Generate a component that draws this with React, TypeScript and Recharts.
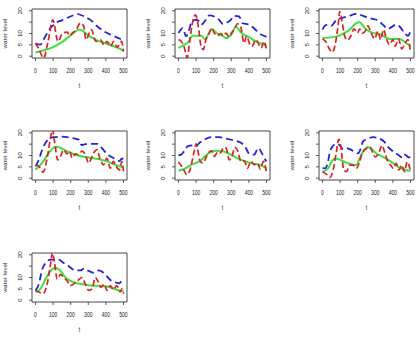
import React from 'react';
import { LineChart, Line, XAxis, YAxis, ReferenceArea, Label } from 'recharts';

type P = [number, number][];

const tTicks = [0, 100, 200, 300, 400, 500];
const levelTicks = [0, 5, 10, 15, 20];
const levelLabels: Record<number, string> = { 0: '0', 5: '5', 10: '10', 15: '', 20: '20' };
const xTitle = 't';
const yTitle = 'water level';

const p1Blue: P = [[0,5.5],[27,5.1],[56,8.8],[84,12.3],[112,14.5],[150,15.8],[198,17.5],[238,18.5],[274,17.6],[312,16],[349,13.3],[387,11],[444,8.9],[491,7.3],[500,7]];
const p1Red: P = [[0,5.8],[20,3],[46,-0.8],[70,6],[98,16],[128,6.5],[155,10.2],[180,10.6],[195,9],[206,10],[230,11.5],[255,14.6],[274,13.2],[287,7.3],[317,11.7],[344,6.5],[370,7.2],[388,5],[407,6.5],[426,4.3],[445,6.5],[464,4],[489,6.5],[500,2]];
const p1Green: P = [[0,1.6],[50,2.6],[100,4],[150,6.2],[200,9.2],[250,11.8],[300,9.2],[350,7],[400,5.6],[450,4.2],[500,2.5]];

const p2Blue: P = [[0,10.2],[24,12.4],[43,8.8],[62,12],[75,15.5],[100,16],[115,15.5],[130,13.9],[150,15.5],[175,18],[203,17.5],[231,16],[250,14.3],[269,14.6],[297,16],[316,17.8],[344,17.5],[363,14.6],[400,13.9],[428,12.4],[457,10.2],[485,9],[500,8.5]];
const p2Red: P = [[0,7.3],[15,6.6],[30,4.5],[50,-0.7],[62,5.8],[81,15.3],[96,18.2],[113,13],[128,4.4],[141,2.9],[156,7.3],[175,10.2],[188,12.4],[203,10.2],[222,9],[240,10],[256,9],[269,10.2],[288,8.5],[301,10.2],[316,11.7],[335,14.3],[353,13.1],[372,5.8],[387,8.8],[406,5.1],[419,4.4],[438,7.3],[457,5.1],[470,3.6],[485,6.6],[500,2.9]];
const p2Green: P = [[0,3.6],[34,5.1],[53,6],[80,9],[130,9],[150,7.5],[190,12],[220,10],[250,9],[270,8],[300,9.5],[325,13],[360,10],[400,8.5],[430,7],[470,5.5],[500,4.5]];

const p3Blue: P = [[0,11.7],[13,13.4],[32,13.9],[51,13.5],[79,16],[108,16.8],[145,17.5],[192,18.7],[230,17.8],[268,16.8],[315,15.8],[343,13.9],[372,12],[391,12.8],[419,13.9],[438,13.1],[466,10.2],[485,9],[500,11]];
const p3Red: P = [[0,7.6],[17,6.6],[41,2.9],[55,1.75],[70,4.4],[89,13.9],[98,19.7],[108,16.8],[126,8.8],[142,7],[160,8.8],[179,12],[198,10.2],[211,12],[225,10.2],[240,10.7],[258,13.4],[277,10.2],[296,7.6],[315,11],[330,7.3],[347,11.7],[362,8],[381,5.1],[400,7.3],[413,4.4],[432,7.6],[451,3.2],[470,5.8],[485,7.3],[500,2.2]];
const p3Green: P = [[0,8],[60,8.4],[108,9.5],[155,11.7],[192,14.6],[211,15],[240,12.4],[277,10.5],[334,9.5],[381,7.6],[438,7.6],[475,5.8],[500,4.4]];

const p4Blue: P = [[0,5.2],[19,8.1],[38,12.6],[66,16.6],[104,18.1],[151,18.3],[198,17.8],[245,17],[262,14.6],[283,15],[311,15.1],[349,15.1],[377,13.3],[406,10.7],[443,8.9],[477,7.5],[491,8.7],[500,8.1]];
const p4Red: P = [[0,5.9],[19,5.2],[43,2.7],[66,8.9],[85,17.8],[96,21.5],[108,16.3],[126,8.1],[142,9.6],[160,12.6],[179,10.7],[194,11.9],[208,8.9],[226,10.7],[245,10.4],[264,11.9],[283,10.4],[302,6.7],[330,11.1],[349,12.6],[368,8.1],[387,5.9],[406,8.9],[425,4.4],[443,7.4],[458,5.2],[477,3.7],[491,7.4],[500,3]];
const p4Green: P = [[0,3.7],[38,6.7],[75,11.1],[113,13.8],[132,13.6],[179,11.9],[236,10.1],[292,9.2],[349,8.6],[406,7.4],[453,5.9],[500,4.7]];

const p5Blue: P = [[0,10.1],[15,10.4],[34,12.1],[53,14.1],[81,14.5],[100,14.1],[119,15.6],[147,17],[185,18.1],[232,18.1],[270,17.5],[317,16.6],[355,15.6],[383,13.3],[402,10.7],[430,10.4],[453,13.3],[468,11.9],[487,8.9],[500,7.4]];
const p5Red: P = [[0,7.1],[25,4.4],[47,1.5],[68,4.4],[87,11.1],[100,15.1],[109,12.6],[123,7.4],[138,6.7],[157,9.2],[175,11.6],[189,12.1],[204,9.6],[223,11.6],[238,11.1],[257,13.6],[270,13.3],[289,8.1],[302,9.2],[321,13.6],[336,12.1],[355,7.4],[374,7.7],[392,4.4],[411,7.4],[430,5.9],[449,6.7],[464,4.1],[483,7.4],[500,2.7]];
const p5Green: P = [[0,3.3],[34,4.1],[72,5.9],[119,7.4],[166,10.7],[213,12.1],[251,11.9],[298,10.4],[355,8.1],[411,6.7],[458,5.9],[500,4.4]];

const p6Blue: P = [[0,4.6],[13,4.3],[28,6.1],[42,11.6],[55,13.8],[79,15.2],[98,14.5],[117,12.8],[136,13.3],[155,12.8],[183,11.6],[202,10.9],[217,13],[230,16.2],[258,17.4],[287,18.1],[325,17.4],[353,15.9],[372,13.8],[400,11.9],[428,10.4],[457,9],[470,10.4],[485,9.4],[500,9]];
const p6Red: P = [[0,2.9],[23,1.7],[42,0.3],[60,3.6],[79,11.6],[92,17.1],[104,13.8],[121,3.6],[136,2.9],[155,5.8],[174,5.8],[192,4.3],[211,7.2],[225,10.9],[249,13],[268,13.8],[283,11.6],[300,9.4],[319,10.9],[338,14.5],[353,11.6],[372,7.2],[387,5.8],[402,4.3],[419,6.5],[434,3.6],[451,5.8],[466,2.9],[481,7.2],[500,3.2]];
const p6Green: P = [[0,2.9],[32,4.3],[51,7.2],[70,8.7],[89,8.4],[126,7.2],[164,6.1],[192,5.8],[211,8.7],[230,11.6],[258,13.8],[277,13],[306,10.9],[343,9.4],[391,7.2],[438,4.6],[475,3.6],[500,3.2]];

const p7Blue: P = [[0,4.3],[19,7.1],[38,13.6],[57,16.4],[85,17.9],[132,17.9],[160,16.4],[189,15],[226,13.1],[255,13.1],[277,14],[302,12.9],[330,12.1],[358,13.1],[387,12.1],[425,8.9],[453,7.9],[477,7.4],[491,8.6],[500,8.3]];
const p7Red: P = [[0,4.3],[19,3.6],[43,2.9],[66,7.1],[85,15.7],[96,21],[108,16.4],[123,9.3],[142,11.4],[160,10],[179,8.6],[198,6.4],[221,7.4],[240,8.6],[264,10],[283,7.1],[302,4.3],[321,5],[340,10],[353,8.6],[372,5.7],[391,7.1],[406,4.3],[425,6.4],[443,4.6],[462,6.4],[481,3.6],[492,5],[500,2.9]];
const p7Green: P = [[0,3.6],[28,5],[57,9.3],[85,12.9],[113,14.3],[142,12.9],[170,10],[217,7.9],[264,7.1],[321,6.4],[368,6.4],[425,5.7],[462,4.6],[500,4]];

const panels = [
  { blue: p1Blue, red: p1Red, green: p1Green },
  { blue: p2Blue, red: p2Red, green: p2Green },
  { blue: p3Blue, red: p3Red, green: p3Green },
  { blue: p4Blue, red: p4Red, green: p4Green },
  { blue: p5Blue, red: p5Red, green: p5Green },
  { blue: p6Blue, red: p6Red, green: p6Green },
  { blue: p7Blue, red: p7Red, green: p7Green },
];

const COL_LEFT = [0, 143, 287];
const ROW_TOP = [0, 122, 244];
const W = 135;
const H = 95;
const FONT = '"Liberation Sans", Arial, Helvetica, sans-serif';
const FS = 6.3;
const SX = 0.8;
const TEXT = '#222';
const AX = '#333';

const toPts = (arr: P) => arr.map(([t, v]) => ({ t, v }));

const XTick = (props: any) => {
  const { x, y, payload } = props;
  return (
    <text
      transform={`translate(${x},${y + 7.7}) scale(${SX},1)`}
      textAnchor="middle"
      dominantBaseline="central"
      fontSize={FS}
      fontFamily={FONT}
      fill={TEXT}
    >
      {String(payload.value)}
    </text>
  );
};

const YTick = (props: any) => {
  const { x, y, payload } = props;
  return (
    <text
      transform={`translate(${x - 6.5},${y}) scale(${SX},1) rotate(-90)`}
      textAnchor="middle"
      dominantBaseline="central"
      fontSize={FS}
      fontFamily={FONT}
      fill={TEXT}
    >
      {levelLabels[payload.value] ?? String(payload.value)}
    </text>
  );
};

const XTitle = (props: any) => {
  const vb = props.viewBox || { x: 32, y: 58, width: 95 };
  return (
    <text
      transform={`translate(${vb.x + vb.width / 2},${vb.y + 28}) scale(${SX},1)`}
      textAnchor="middle"
      dominantBaseline="central"
      fontSize={FS}
      fontFamily={FONT}
      fill={TEXT}
    >
      {xTitle}
    </text>
  );
};

const YTitle = (props: any) => {
  const vb = props.viewBox || { x: 0, y: 9, height: 49 };
  return (
    <text
      transform={`translate(${vb.x + 5.5},${vb.y + vb.height / 2}) scale(${SX},1) rotate(-90)`}
      textAnchor="middle"
      dominantBaseline="central"
      fontSize={FS}
      fontFamily={FONT}
      fill={TEXT}
    >
      {yTitle}
    </text>
  );
};

const Panel = ({ blue, red, green }: { blue: P; red: P; green: P }) => (
  <LineChart width={W} height={H} margin={{ top: 9, right: 8, bottom: 7, left: 0 }}>
    <XAxis
      dataKey="t"
      type="number"
      domain={[-20, 520]}
      allowDataOverflow
      ticks={tTicks}
      tick={<XTick />}
      tickSize={3}
      tickMargin={2}
      axisLine={false}
      tickLine={{ stroke: AX, strokeWidth: 0.8 }}
      height={30}
      interval={0}
    >
      <Label content={<XTitle />} />
    </XAxis>
    <YAxis
      dataKey="v"
      type="number"
      domain={[-0.8, 20.8]}
      allowDataOverflow
      ticks={levelTicks}
      tick={<YTick />}
      tickSize={3}
      tickMargin={2}
      axisLine={false}
      tickLine={{ stroke: AX, strokeWidth: 0.8 }}
      width={32}
      interval={0}
    >
      <Label content={<YTitle />} />
    </YAxis>
    <ReferenceArea x1={-20} x2={520} y1={-0.8} y2={20.8} fill="none" stroke={AX} strokeWidth={0.9} ifOverflow="visible" />
    <Line data={toPts(green)} dataKey="v" type="monotone" stroke="#40e040" strokeWidth={2} dot={false} isAnimationActive={false} />
    <Line data={toPts(blue)} dataKey="v" type="monotone" stroke="#2424d8" strokeWidth={1.8} strokeDasharray="7 4" dot={false} isAnimationActive={false} />
    <Line data={toPts(red)} dataKey="v" type="monotone" stroke="#d82424" strokeWidth={1.7} strokeDasharray="6 3" dot={false} isAnimationActive={false} />
  </LineChart>
);

export default function App() {
  return (
    <div style={{ position: 'absolute', left: 0, top: 0, width: 419, height: 343, overflow: 'hidden', background: '#fff' }}>
      {panels.map((p, i) => (
        <div
          key={i}
          style={{ position: 'absolute', left: COL_LEFT[i % 3], top: ROW_TOP[Math.floor(i / 3)], width: W, height: H }}
        >
          <Panel blue={p.blue} red={p.red} green={p.green} />
        </div>
      ))}
    </div>
  );
}
